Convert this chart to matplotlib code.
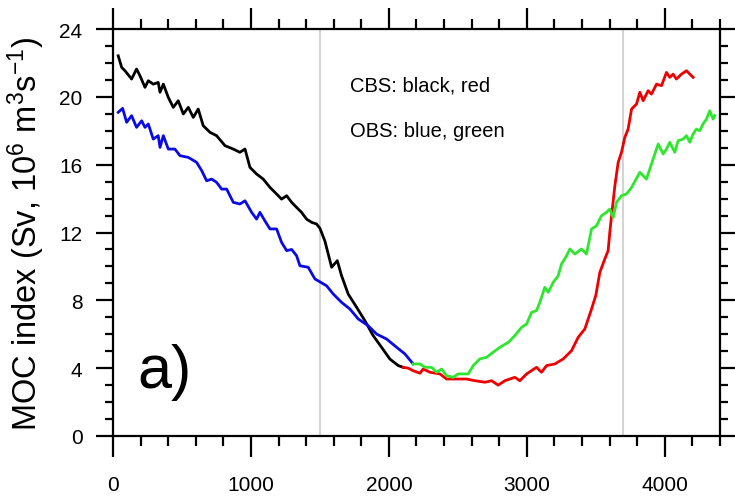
import matplotlib.pyplot as plt

plt.rcParams['font.family'] = ['Liberation Sans', 'DejaVu Sans']
plt.rcParams['mathtext.default'] = 'regular'

### MOC index time series (Sv)

# CBS run, first part (black)
cbs1_x = [38, 63, 87, 135, 171, 196, 232, 256, 292, 328, 341, 365, 401, 437, 473,
          510, 546, 582, 618, 654, 703, 751, 812, 872, 920, 957, 993, 1041, 1089,
          1138, 1186, 1222, 1259, 1295, 1331, 1367, 1403, 1440, 1476, 1500, 1536,
          1585, 1626, 1657, 1705, 1766, 1826, 1886, 1947, 2007, 2068, 2104]
cbs1_y = [22.42, 21.74, 21.54, 21.05, 21.64, 21.24, 20.56, 20.95, 20.75, 20.85,
          20.27, 20.75, 19.97, 19.38, 19.77, 18.99, 19.38, 18.79, 19.28, 18.30,
          17.91, 17.71, 17.12, 16.92, 16.73, 16.92, 15.84, 15.45, 15.15, 14.66,
          14.27, 13.97, 14.17, 13.78, 13.48, 13.19, 12.79, 12.60, 12.50, 12.25,
          11.50, 9.95, 10.34, 9.45, 8.37, 7.59, 6.80, 5.92, 5.23, 4.54, 4.15, 4.05]

# CBS run, second part (red)
cbs2_x = [2104, 2140, 2176, 2225, 2249, 2297, 2340, 2370, 2418, 2490, 2563, 2623,
          2696, 2744, 2792, 2841, 2913, 2949, 2998, 3070, 3106, 3143, 3203, 3263,
          3324, 3372, 3420, 3469, 3500, 3529, 3565, 3589, 3601, 3614, 3638, 3662,
          3686, 3710, 3734, 3759, 3795, 3819, 3843, 3879, 3903, 3940, 3976, 4012,
          4036, 4060, 4084, 4121, 4157, 4181, 4205]
cbs2_y = [4.05, 4.00, 3.85, 3.70, 3.95, 3.76, 3.70, 3.66, 3.36, 3.36, 3.36, 3.26,
          3.17, 3.26, 3.00, 3.26, 3.46, 3.26, 3.66, 4.05, 3.76, 4.15, 4.25, 4.54,
          5.03, 5.82, 6.31, 7.49, 8.30, 9.65, 10.44, 10.93, 12.00, 12.99, 14.76,
          16.14, 16.73, 17.61, 18.10, 19.28, 19.58, 20.27, 19.77, 20.36, 20.16,
          20.75, 20.66, 21.44, 21.15, 21.34, 21.05, 21.34, 21.54, 21.34, 21.15]

# OBS run, first part (blue)
obs1_x = [38, 70, 99, 135, 171, 208, 232, 256, 292, 328, 341, 365, 401, 449, 486,
          546, 606, 643, 679, 715, 751, 788, 824, 872, 920, 957, 1005, 1041, 1065,
          1101, 1138, 1186, 1222, 1259, 1295, 1331, 1355, 1415, 1464, 1548, 1597,
          1657, 1717, 1778, 1850, 1911, 1983, 2056, 2116, 2176]
obs1_y = [19.09, 19.32, 18.50, 18.89, 18.20, 18.59, 18.20, 18.40, 17.51, 17.71,
          17.02, 17.71, 16.92, 16.92, 16.53, 16.43, 16.14, 15.65, 15.05, 15.15,
          14.96, 14.56, 14.56, 13.78, 13.68, 13.87, 13.19, 12.79, 13.19, 12.69,
          12.21, 12.21, 11.42, 10.93, 11.00, 10.63, 10.04, 9.95, 9.26, 8.86, 8.37,
          7.88, 7.49, 6.90, 6.50, 6.01, 5.72, 5.23, 4.84, 4.25]

# OBS run, second part (green)
obs2_x = [2176, 2225, 2261, 2309, 2346, 2382, 2418, 2466, 2502, 2539, 2575, 2611,
          2659, 2708, 2756, 2804, 2865, 2913, 2962, 2998, 3034, 3070, 3094, 3130,
          3155, 3191, 3227, 3251, 3288, 3312, 3348, 3396, 3432, 3469, 3505, 3541,
          3577, 3601, 3626, 3650, 3686, 3722, 3759, 3819, 3867, 3915, 3952, 3988,
          4012, 4036, 4072, 4096, 4133, 4157, 4181, 4205, 4229, 4253, 4277, 4302,
          4326, 4350, 4362]
obs2_y = [4.25, 4.25, 4.05, 4.05, 3.76, 3.95, 3.56, 3.46, 3.66, 3.66, 3.66, 4.15,
          4.54, 4.64, 4.94, 5.23, 5.52, 5.92, 6.41, 6.60, 7.29, 7.39, 7.88, 8.77,
          8.47, 9.06, 9.45, 10.14, 10.63, 11.03, 10.73, 11.03, 10.73, 12.21, 12.40,
          12.99, 13.19, 13.38, 12.89, 13.78, 14.17, 14.27, 14.66, 15.55, 15.15,
          16.33, 17.22, 16.63, 16.92, 17.32, 16.73, 17.41, 17.51, 17.71, 17.32,
          17.81, 18.10, 18.00, 18.40, 18.69, 19.18, 18.69, 18.89]

# times marked by vertical lines
mark_times = [1500, 3700]

fig = plt.figure(figsize = (7.35, 5.02), dpi = 100)
ax = fig.add_axes([0.1537, 0.1295, 0.8259, 0.8107])

for t in mark_times:
    ax.axvline(t, color = '#d4d4d4', lw = 1.5, zorder = 1)

lw = 2.0
ax.plot(cbs1_x, cbs1_y, color = 'black', lw = lw, zorder = 3)
ax.plot(cbs2_x, cbs2_y, color = '#ee0000', lw = lw, zorder = 3)
ax.plot(obs1_x, obs1_y, color = '#0a0ae6', lw = lw, zorder = 4)
ax.plot(obs2_x, obs2_y, color = '#2fe62f', lw = lw, zorder = 4)

ax.set_xlim(0, 4400)
ax.set_ylim(0, 24)
ax.set_xticks([0, 1000, 2000, 3000, 4000])
ax.set_xticks(range(0, 4401, 200), minor = True)
ax.set_yticks(range(0, 25, 4))
ax.set_yticks(range(0, 25, 1), minor = True)

for s in ax.spines.values():
    s.set_linewidth(1.6)

ax.tick_params(axis = 'x', which = 'both', direction = 'out', top = True,
               width = 1.6, labelsize = 15, pad = 13)
ax.tick_params(axis = 'x', which = 'major', length = 15)
ax.tick_params(axis = 'x', which = 'minor', length = 7.5)
ax.tick_params(axis = 'y', which = 'both', direction = 'out', right = True,
               width = 1.6, labelsize = 15, pad = 10)
ax.tick_params(axis = 'y', which = 'major', length = 12)
ax.tick_params(axis = 'y', which = 'minor', length = 5.5)

ax.set_ylabel('MOC index (Sv, 10$^6$ m$^3$s$^{-1}$)', fontsize = 23.5, labelpad = 9)

ax.text(1717, 20.4, 'CBS: black, red', fontsize = 14.5, va = 'baseline')
ax.text(1717, 17.7, 'OBS: blue, green', fontsize = 14.5, va = 'baseline')
ax.text(175, 2.9, 'a)', fontsize = 44, va = 'baseline')

fig.savefig('out.png', dpi = 100)
